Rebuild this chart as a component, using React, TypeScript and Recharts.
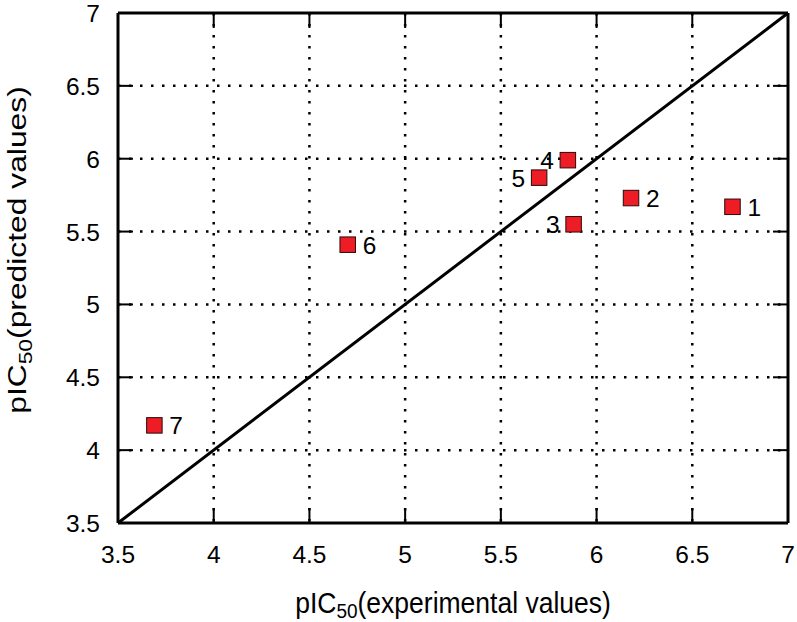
import React from "react";
import {
  ScatterChart,
  Scatter,
  XAxis,
  YAxis,
  CartesianGrid,
  ReferenceLine,
} from "recharts";

// ---- data ----
const compoundLabels = ["1", "2", "3", "4", "5", "6", "7"];
const experimental = [6.71, 6.18, 5.88, 5.85, 5.7, 4.7, 3.69];
const predicted = [5.67, 5.73, 5.55, 5.99, 5.87, 5.41, 4.17];
const labelSide = ["right", "right", "left", "left", "left", "right", "right"];
const axisTicks = [3.5, 4, 4.5, 5, 5.5, 6, 6.5, 7];
const innerTicks = [4, 4.5, 5, 5.5, 6, 6.5];
const axisDomain: [number, number] = [3.5, 7];
const identityLine = [3.5, 7];

const points = compoundLabels.map((name, i) => ({
  x: experimental[i],
  y: predicted[i],
  name,
  side: labelSide[i],
}));

const FONT = "'Liberation Sans', Arial, Helvetica, sans-serif";
const TICK_LEN = 15;
const TICK_FONT = 24.5;

const makeTick =
  (side: "bottom" | "left" | "top" | "right", showText: boolean) =>
  (props: any) => {
    const x = Number(props.x);
    const y = Number(props.y);
    const { payload } = props;
    let x2 = x;
    let y2 = y;
    if (side === "bottom") y2 = y - TICK_LEN;
    else if (side === "top") y2 = y + TICK_LEN;
    else if (side === "left") x2 = x + TICK_LEN;
    else x2 = x - TICK_LEN;
    const isEdge = payload.value === axisDomain[0] || payload.value === axisDomain[1];
    return (
      <g>
        {!isEdge && (
          <path d={`M${x},${y}L${x2},${y2}`} stroke="#000" strokeWidth={2} fill="none" />
        )}
        {showText && side === "bottom" && (
          <text x={x} y={y + 40} textAnchor="middle" fontSize={TICK_FONT} fontFamily={FONT} fill="#000">
            {payload.value}
          </text>
        )}
        {showText && side === "left" && (
          <text x={x - 18} y={y + 9} textAnchor="end" fontSize={TICK_FONT} fontFamily={FONT} fill="#000">
            {payload.value}
          </text>
        )}
      </g>
    );
  };

const PointShape = (props: any) => {
  const { cx, cy, payload } = props;
  const s = 15.5;
  const right = payload.side === "right";
  return (
    <g>
      <rect
        x={cx - s / 2}
        y={cy - s / 2}
        width={s}
        height={s}
        fill="#ee1c25"
        stroke="#2a0a0a"
        strokeWidth={1}
      />
      <text
        x={right ? cx + 15 : cx - 14}
        y={cy + 9}
        textAnchor={right ? "start" : "end"}
        fontSize={TICK_FONT}
        fontFamily={FONT}
        fill="#000"
      >
        {payload.name}
      </text>
    </g>
  );
};

const NoShape = () => <g />;

const XLabel = (props: any) => {
  const { viewBox } = props;
  const cx = viewBox.x + viewBox.width / 2;
  const y = viewBox.y + 90;
  return (
    <text
      x={0}
      y={0}
      transform={`translate(${cx}, ${y}) scale(1, 1.08)`}
      textAnchor="middle"
      fontSize={26.5}
      fontFamily={FONT}
      fill="#000"
    >
      pIC
      <tspan fontSize={19} dy={5}>50</tspan>
      <tspan dy={-5}>(experimental values)</tspan>
    </text>
  );
};

const YLabel = (props: any) => {
  const { viewBox } = props;
  const x = 26;
  const cy = viewBox.y + viewBox.height / 2 - 18;
  return (
    <text
      x={0}
      y={0}
      transform={`translate(${x}, ${cy}) rotate(-90) scale(1.2, 1)`}
      textAnchor="middle"
      fontSize={26.5}
      fontFamily={FONT}
      fill="#000"
    >
      pIC
      <tspan fontSize={19} dy={6}>50</tspan>
      <tspan dy={-6}>(predicted values)</tspan>
    </text>
  );
};

export default function App() {
  return (
    <div style={{ position: "absolute", left: 0, top: 0, background: "#fff" }}>
      <ScatterChart
        width={797}
        height={622}
        margin={{ top: 12, right: 8, left: 0, bottom: 0 }}
      >
        <CartesianGrid
          stroke="#000"
          strokeWidth={2.5}
          strokeDasharray="2.5 8.5"
          horizontalValues={innerTicks}
          verticalValues={innerTicks}
        />
        <XAxis
          type="number"
          dataKey="x"
          domain={axisDomain}
          ticks={axisTicks}
          allowDataOverflow
          height={99}
          tickSize={0}
          tickMargin={0}
          tickLine={false}
          axisLine={{ stroke: "#000", strokeWidth: 3 }}
          tick={makeTick("bottom", true)}
          interval={0}
          label={<XLabel />}
        />
        <XAxis
          xAxisId="top"
          orientation="top"
          type="number"
          dataKey="x"
          domain={axisDomain}
          ticks={innerTicks}
          allowDataOverflow
          height={1}
          tickSize={0}
          tickMargin={0}
          tickLine={false}
          axisLine={{ stroke: "#000", strokeWidth: 3 }}
          tick={makeTick("top", false)}
          interval={0}
        />
        <YAxis
          type="number"
          dataKey="y"
          domain={axisDomain}
          ticks={axisTicks}
          allowDataOverflow
          width={118}
          tickSize={0}
          tickMargin={0}
          tickLine={false}
          axisLine={{ stroke: "#000", strokeWidth: 3 }}
          tick={makeTick("left", true)}
          interval={0}
          label={<YLabel />}
        />
        <YAxis
          yAxisId="right"
          orientation="right"
          type="number"
          dataKey="y"
          domain={axisDomain}
          ticks={innerTicks}
          allowDataOverflow
          width={1}
          tickSize={0}
          tickMargin={0}
          tickLine={false}
          axisLine={{ stroke: "#000", strokeWidth: 3 }}
          tick={makeTick("right", false)}
          interval={0}
        />
        <ReferenceLine
          segment={[
            { x: identityLine[0], y: identityLine[0] },
            { x: identityLine[1], y: identityLine[1] },
          ]}
          stroke="#000"
          strokeWidth={3}
        />
        <Scatter
          xAxisId="top"
          yAxisId="right"
          data={points}
          shape={<NoShape />}
          isAnimationActive={false}
        />
        <Scatter data={points} shape={<PointShape />} isAnimationActive={false} />
      </ScatterChart>
    </div>
  );
}
